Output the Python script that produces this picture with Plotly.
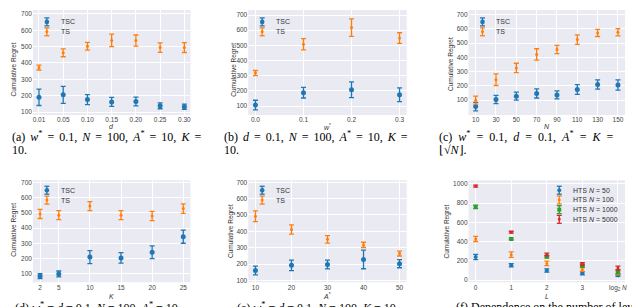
import plotly.graph_objects as go

W, H = 640, 307

# ---------------- data ----------------
a_labels = ["0.01", "0.05", "0.10", "0.15", "0.20", "0.25", "0.30"]
a_tsc = [190, 205, 176, 162, 164, 138, 132]
a_tsc_err = [50, 52, 31, 27, 27, 18, 16]
a_ts = [372, 462, 502, 538, 537, 494, 494]
a_ts_err = [15, 24, 24, 38, 34, 29, 30]

b_w = [0.0, 0.1, 0.2, 0.3]
b_tsc = [106, 188, 207, 174]
b_tsc_err = [32, 35, 52, 45]
b_ts = [317, 507, 617, 548]
b_ts_err = [17, 37, 58, 35]

c_n = [10, 30, 50, 70, 90, 110, 130, 150]
c_tsc = [55, 104, 128, 147, 137, 175, 210, 207]
c_tsc_err = [30, 29, 28, 32, 28, 34, 32, 36]
c_ts = [100, 244, 326, 421, 456, 525, 572, 577]
c_ts_err = [28, 41, 33, 40, 29, 33, 25, 25]

d_k = [2, 5, 10, 15, 20, 25]
d_tsc = [85, 100, 210, 205, 242, 344]
d_tsc_err = [16, 19, 42, 34, 42, 43]
d_ts = [493, 485, 544, 485, 479, 528]
d_ts_err = [30, 30, 30, 30, 30, 31]

e_a = [10, 20, 30, 40, 50]
e_tsc = [160, 192, 197, 228, 202]
e_tsc_err = [27, 32, 27, 57, 25]
e_ts = [492, 411, 351, 317, 264]
e_ts_err = [33, 28, 23, 16, 15]

f_l = [0, 1, 2, 3, 4]
f_ticks = ["0", "1", "2", "3", "log<sub>2</sub> <i>N</i>"]
f_n50 = [240, 154, 100, 70, 48]
f_n50_err = [27, 17, 17, 15, 10]
f_n100 = [428, 264, 173, 110, 70]
f_n100_err = [27, 29, 23, 20, 15]
f_n1000 = [760, 428, 242, 148, 88]
f_n1000_err = [17, 10, 12, 15, 20]
f_n5000 = [976, 497, 266, 165, 125]
f_n5000_err = [10, 10, 15, 15, 20]

BLUE, ORANGE, GREEN, RED = "#1f77b4", "#ff7f0e", "#2ca02c", "#d62728"
BG = "#EAEAF2"
SANS = "Liberation Sans"
SERIF = "Liberation Serif"


def px(x):
    return x / W


def py(y):
    return 1 - y / H


cols = [(25, 183), (241, 400), (462, 619)]
rows = [(0, 106), (172, 275)]

fig = go.Figure()

panels = [
    dict(r=0, c=0, x=list(range(len(a_labels))),
         series=[(a_tsc, a_tsc_err, BLUE, "circle", 5), (a_ts, a_ts_err, ORANGE, "circle", 3)],
         xr=[-0.25, 6.25], yr=[82, 724], xtv=list(range(len(a_labels))), xtt=a_labels,
         ytv=[100, 200, 300, 400, 500, 600, 700]),
    dict(r=0, c=1, x=b_w,
         series=[(b_tsc, b_tsc_err, BLUE, "circle", 5), (b_ts, b_ts_err, ORANGE, "circle", 3)],
         xr=[-0.015, 0.315], yr=[41, 733], xtv=b_w, xtt=["0.0", "0.1", "0.2", "0.3"],
         ytv=[100, 200, 300, 400, 500, 600, 700]),
    dict(r=0, c=2, x=c_n,
         series=[(c_tsc, c_tsc_err, BLUE, "circle", 5), (c_ts, c_ts_err, ORANGE, "circle", 3)],
         xr=[3, 157], yr=[-4, 733], xtv=c_n, xtt=[str(v) for v in c_n],
         ytv=[100, 200, 300, 400, 500, 600, 700]),
    dict(r=1, c=0, x=d_k,
         series=[(d_tsc, d_tsc_err, BLUE, "circle", 5), (d_ts, d_ts_err, ORANGE, "circle", 3)],
         xr=[0.85, 26.15], yr=[45, 713], xtv=d_k, xtt=[str(v) for v in d_k],
         ytv=[100, 200, 300, 400, 500, 600, 700]),
    dict(r=1, c=1, x=e_a,
         series=[(e_tsc, e_tsc_err, BLUE, "circle", 5), (e_ts, e_ts_err, ORANGE, "circle", 3)],
         xr=[8, 52], yr=[88, 712], xtv=e_a, xtt=[str(v) for v in e_a],
         ytv=[100, 200, 300, 400, 500, 600, 700]),
    dict(r=1, c=2, x=f_l,
         series=[(f_n50, f_n50_err, BLUE, "circle", 4), (f_n100, f_n100_err, ORANGE, "circle", 3),
                 (f_n1000, f_n1000_err, GREEN, "square", 4), (f_n5000, f_n5000_err, RED, "circle", 3)],
         xr=[-0.2, 4.2], yr=[-23, 1036], xtv=f_l, xtt=f_ticks,
         ytv=[0, 200, 400, 600, 800, 1000]),
]

layout_axes = {}
for i, p in enumerate(panels):
    n = i + 1
    xa = "x" if n == 1 else f"x{n}"
    ya = "y" if n == 1 else f"y{n}"
    x0, x1 = cols[p["c"]]
    y0, y1 = rows[p["r"]]
    for vals, err, color, sym, size in p["series"]:
        fig.add_trace(go.Scatter(
            x=p["x"], y=vals, mode="markers", xaxis=xa, yaxis=ya,
            marker=dict(color=color, size=size, symbol=sym),
            error_y=dict(type="data", array=err, visible=True, color=color,
                         thickness=1.3, width=2.5),
            showlegend=False, hoverinfo="skip"))
    axcommon = dict(showgrid=True, gridcolor="white", gridwidth=1, zeroline=False,
                    showline=False, ticks="", tickfont=dict(family=SANS, size=6.5, color="#444"))
    layout_axes["xaxis" if n == 1 else f"xaxis{n}"] = dict(
        domain=[px(x0), px(x1)], range=p["xr"], anchor=ya,
        tickmode="array", tickvals=p["xtv"], ticktext=p["xtt"], **axcommon)
    layout_axes["yaxis" if n == 1 else f"yaxis{n}"] = dict(
        domain=[py(y1), py(y0)], range=p["yr"], anchor=xa,
        tickmode="array", tickvals=p["ytv"], **axcommon)

fig.update_layout(**layout_axes)

annotations = []
shapes = []

for p in panels:
    x0, x1 = cols[p["c"]]
    y0, y1 = rows[p["r"]]
    shapes.append(dict(type="rect", xref="paper", yref="paper", layer="below",
                       x0=px(x0), x1=px(x1), y0=py(y1), y1=py(y0),
                       fillcolor=BG, line=dict(width=0)))


def ann(x, y, text, size=7, family=SANS, xanchor="center", yanchor="middle", angle=0, color="#333"):
    annotations.append(dict(x=px(x), y=py(y), xref="paper", yref="paper", text=text,
                            showarrow=False, xanchor=xanchor, yanchor=yanchor, textangle=angle,
                            font=dict(family=family, size=size, color=color)))


xt = ["<i>d</i>", "<i>w</i><sup>*</sup>", "<i>N</i>", "<i>K</i>", "<i>A</i><sup>*</sup>", "<i>L</i>"]
for i, p in enumerate(panels):
    x0, x1 = cols[p["c"]]
    ty = 118 if p["r"] == 0 else 289
    ann((x0 + x1) / 2, ty, xt[i], size=7)
ytitle_pos = [(6, 60), (227, 60), (445, 55), (6, 222), (224, 223), (440, 224)]
for (x, y) in ytitle_pos:
    ann(x, y, "Cumulative Regret", size=6.5, angle=-90)


def legend_entry(xm, ym, color, text, symbol="circle", msize=2.2):
    shapes.append(dict(type="line", xref="paper", yref="paper", x0=px(xm), x1=px(xm),
                       y0=py(ym - 4), y1=py(ym + 4), line=dict(color=color, width=1.3)))
    for yy in (ym - 4, ym + 4):
        shapes.append(dict(type="line", xref="paper", yref="paper", x0=px(xm - 2.5), x1=px(xm + 2.5),
                           y0=py(yy), y1=py(yy), line=dict(color=color, width=1.3)))
    shapes.append(dict(type="rect" if symbol == "square" else "circle", xref="paper", yref="paper",
                       x0=px(xm - msize), x1=px(xm + msize), y0=py(ym + msize), y1=py(ym - msize),
                       fillcolor=color, line=dict(width=0)))
    ann(xm + 12, ym, text, size=7, xanchor="left")


for p in panels[:5]:
    x0, _ = cols[p["c"]]
    ybase = 12 if p["r"] == 0 else 182
    legend_entry(x0 + 14, ybase, BLUE, "TSC", msize=2.3)
    legend_entry(x0 + 14, ybase + 10, ORANGE, "TS", msize=1.5)

f_names = ["HTS <i>N</i> = 50", "HTS <i>N</i> = 100", "HTS <i>N</i> = 1000", "HTS <i>N</i> = 5000"]
f_cols = [BLUE, ORANGE, GREEN, RED]
f_sym = ["circle", "circle", "square", "circle"]
f_ms = [2.0, 1.5, 2.0, 1.5]
for k in range(4):
    legend_entry(553, 182 + k * 9.8, f_cols[k], f_names[k], symbol=f_sym[k], msize=f_ms[k])

# captions (justified look via wider spaces)
CAP = 12
s1 = " \u2006"
ann(2, 128, f"(a){s1}<i>w</i><sup>*</sup>{s1}={s1}0.1,{s1}<i>N</i>{s1}={s1}100,{s1}<i>A</i><sup>*</sup>{s1}={s1}10,{s1}<i>K</i>{s1}=",
    size=CAP, family=SERIF, xanchor="left", color="black")
ann(2, 141, "10.", size=CAP, family=SERIF, xanchor="left", color="black")
ann(215, 128, f"(b){s1}<i>d</i>{s1}={s1}0.1,{s1}<i>N</i>{s1}={s1}100,{s1}<i>A</i><sup>*</sup>{s1}={s1}10,{s1}<i>K</i>{s1}=",
    size=CAP, family=SERIF, xanchor="left", color="black")
ann(215, 141, "10.", size=CAP, family=SERIF, xanchor="left", color="black")
sp = " \u2005"
ann(430, 128, f"(c){sp}<i>w</i><sup>*</sup>{sp}={sp}0.1,{sp}<i>d</i>{sp}={sp}0.1,{sp}<i>A</i><sup>*</sup>{sp}={sp}<i>K</i>{sp}=",
    size=CAP, family=SERIF, xanchor="left", color="black")
ann(430, 141, "\u230a\u221a<i>N</i>\u230b.", size=CAP, family=SERIF, xanchor="left", color="black")
ann(5, 300, "(d) <i>w</i><sup>*</sup> = <i>d</i> = 0.1, <i>N</i> = 100, <i>A</i><sup>*</sup> = 10.",
    size=CAP, family=SERIF, xanchor="left", color="black")
ann(228, 300, "(e) <i>w</i><sup>*</sup> = <i>d</i> = 0.1, <i>N</i> = 100, <i>K</i> = 10.",
    size=CAP, family=SERIF, xanchor="left", color="black")
ann(447, 300, "(f) Dependence on the number of levels <i>L</i>.",
    size=CAP, family=SERIF, xanchor="left", color="black")

fig.update_layout(width=W, height=H, margin=dict(l=0, r=0, t=0, b=0),
                  paper_bgcolor="white", plot_bgcolor="rgba(0,0,0,0)",
                  showlegend=False, annotations=annotations, shapes=shapes)

fig.write_html("out.html")
